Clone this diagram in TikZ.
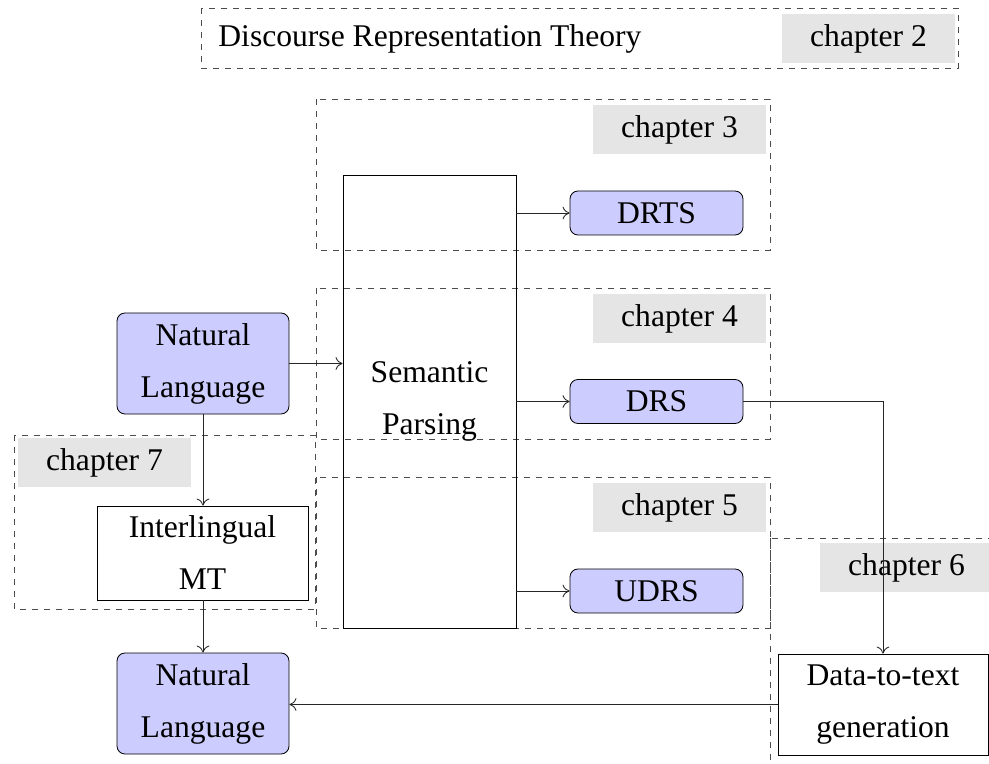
\documentclass[tikz,border=0pt]{standalone}
\usepackage{fontspec}
\setmainfont{Liberation Serif}
\usetikzlibrary{arrows.meta}
\begin{document}
\begin{tikzpicture}[x=0.5pt,y=-0.5pt, line width=0.42pt,
  every node/.style={font=\fontsize{15.8}{26}\selectfont, inner sep=0pt, align=center},
  repr/.style={draw, fill=blue!20, rounded corners=4pt},
  stage/.style={draw},
  chap/.style={fill=black!10, minimum width=86.5pt, minimum height=24.5pt},
  region/.style={draw=black!70, dashed},
  conn/.style={-{To[length=3.5pt,width=6.4pt]}, draw=black!85}]
\clip (0,0) rectangle (989,764);

% chapter regions
\draw[region] (201,8) rectangle (958,68);
\draw[region] (316,99) rectangle (770,250);
\draw[region] (316,288) rectangle (770,439);
\draw[region] (316,477) rectangle (770,628);
\draw[region] (14,435) rectangle (315,609);
\draw[region] (770,538) rectangle (1020,820);

% chapter labels
\node[anchor=west] (drt) at (218,38.5) {Discourse Representation Theory};
\node[chap] (c2) at (868.5,38.5) {chapter 2};
\node[chap] (c3) at (679.5,129.5) {chapter 3};
\node[chap] (c4) at (679.5,318.5) {chapter 4};
\node[chap] (c5) at (679.5,507.5) {chapter 5};
\node[chap] (c7) at (104.5,462.5) {chapter 7};
\node[chap] (c6) at (906.5,567.5) {chapter 6};

% processing stages
\node[stage, minimum width=86.5pt, minimum height=226.5pt] (sp) at (429.5,401.5) {Semantic\\Parsing};
\node[stage, minimum width=105.5pt, minimum height=47pt] (mt) at (202.5,553) {Interlingual\\MT};
\node[stage, minimum width=105pt, minimum height=50.5pt] (dt) at (883,704.5) {Data-to-text\\generation};

% representations
\node[repr, minimum width=86pt, minimum height=50.5pt] (nl1) at (203,363.5) {Natural\\Language};
\node[repr, minimum width=86pt, minimum height=50.5pt] (nl2) at (203,703.5) {Natural\\Language};
\node[repr, minimum width=86.5pt, minimum height=22pt] (drts) at (656.5,213) {DRTS};
\node[repr, minimum width=86.5pt, minimum height=22pt] (drs) at (656.5,401.5) {DRS};
\node[repr, minimum width=86.5pt, minimum height=22pt] (udrs) at (656.5,591) {UDRS};

% connectors
\draw[conn] (nl1.east) -- (nl1.east -| sp.west);
\draw[conn] (drts.west -| sp.east) -- (drts.west);
\draw[conn] (sp.east) -- (drs.west);
\draw[conn] (udrs.west -| sp.east) -- (udrs.west);
\draw[conn] (nl1.south) -- (mt.north -| nl1.south);
\draw[conn] (mt.south -| nl2.north) -- (nl2.north);
\draw[conn] (drs.east) -| (dt.north);
\draw[conn] (dt.west) -- (dt.west -| nl2.east);
\end{tikzpicture}
\end{document}
